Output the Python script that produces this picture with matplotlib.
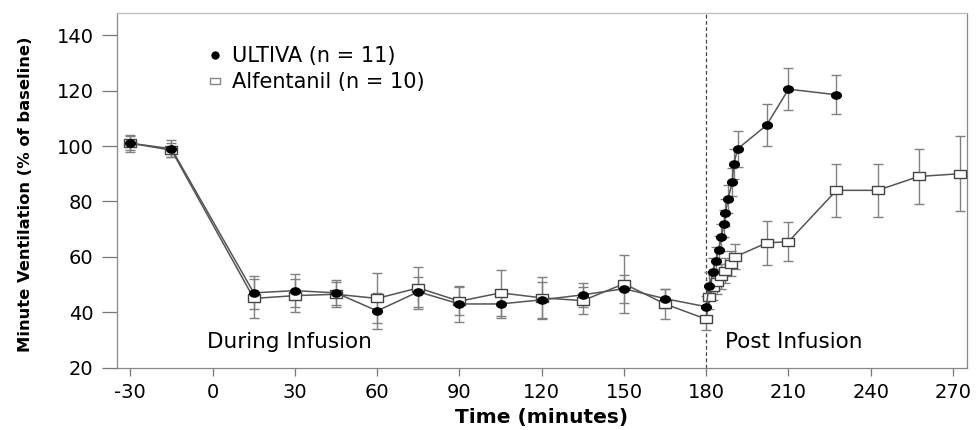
import matplotlib
matplotlib.use("Agg")
import matplotlib.pyplot as plt
from matplotlib.path import Path
from matplotlib.transforms import Affine2D

# ---------------- data ----------------
ult_time = [-30, -15, 15, 30, 45, 60, 75, 90, 105, 120, 135, 150, 165,
            180, 181, 182.5, 183.5, 184.5, 185.5, 186.5, 187, 188, 189.5, 190, 191.5,
            202, 210, 227.5]
ult_val = [101, 99, 47, 47.8, 47, 40.5, 47.4, 43, 43, 44.5, 46.3, 48.5, 44.9,
           42, 49.5, 54.5, 58.5, 62.5, 67, 72, 76, 81, 87, 93.5, 99,
           107.5, 120.5, 118.5]
ult_err = [3, 3, 6, 6, 4.5, 6.5, 5.5, 6.5, 5, 6.5, 4.3, 5, 3.5,
           4, 5, 5, 5, 5, 5, 5, 5, 5, 5, 5.5, 6.5,
           7.5, 7.5, 7]

alf_time = [-30, -15, 15, 30, 45, 60, 75, 90, 105, 120, 135, 150, 165,
            180, 181, 182.5, 184, 185.5, 187, 189, 190.5,
            202, 210, 227.5, 242.5, 257.5, 272.5]
alf_val = [101, 98.5, 45, 46, 46.5, 45, 48.8, 44, 47, 45.2, 44.2, 50.3, 43,
           37.5, 45.5, 49, 51, 53, 55, 57.5, 60,
           65, 65.5, 84, 84, 89, 90]
alf_err = [2.5, 2.5, 7, 6, 4.5, 9, 7.6, 5, 8.3, 7.5, 5, 10.5, 5.5,
           4, 4.5, 4.5, 4.5, 4.5, 4.5, 4.5, 4.5,
           8, 7, 9.5, 9.5, 10, 13.5]

xticks = [-30, 0, 30, 60, 90, 120, 150, 180, 210, 240, 270]
yticks = [20, 40, 60, 80, 100, 120, 140]

# ---------------- plot ----------------
plt.rcParams['font.family'] = ['DejaVu Sans']
plt.rcParams['axes.unicode_minus'] = False

fig = plt.figure(figsize=(9.77, 4.30), dpi=100)
ax = fig.add_axes([0.1194, 0.1449, 0.9895 - 0.1194, 0.9698 - 0.1449])

# horizontally stretched marker shapes (the original graphic is stretched)
ellipse = Path.unit_circle().transformed(Affine2D().scale(1.35, 1.0))
rect = Path([(-1.45, -1), (1.45, -1), (1.45, 1), (-1.45, 1), (-1.45, -1)],
            [Path.MOVETO, Path.LINETO, Path.LINETO, Path.LINETO, Path.CLOSEPOLY])

line_col = '#555555'
err_col = '#808080'

ax.axvline(180, color='#444444', lw=0.9, ls=(0, (3, 2)), zorder=1)

ax.errorbar(alf_time, alf_val, yerr=alf_err, fmt='none', ecolor=err_col,
            elinewidth=1.0, capsize=3.6, capthick=1.0, zorder=2)
ax.errorbar(ult_time, ult_val, yerr=ult_err, fmt='none', ecolor=err_col,
            elinewidth=1.0, capsize=3.6, capthick=1.0, zorder=2)

ax.plot(ult_time, ult_val, color=line_col, lw=1.1, marker=ellipse, ms=7,
        mfc='black', mec='black', zorder=4, label='ULTIVA (n = 11)')
ax.plot(alf_time, alf_val, color=line_col, lw=1.1, marker=rect, ms=8,
        mfc='white', mec='#444444', mew=1.0, zorder=3, label='Alfentanil (n = 10)')

ax.set_xlim(-35, 275)
ax.set_ylim(20, 148)
ax.set_xticks(xticks)
ax.set_yticks(yticks)
ax.tick_params(axis='both', labelsize=14, color='#777777', width=0.9)
ax.tick_params(axis='x', length=6, pad=5)
ax.tick_params(axis='y', length=10.5, pad=6)

for s in ax.spines.values():
    s.set_color('#888888')
    s.set_linewidth(0.9)
ax.spines['top'].set_color('#bbbbbb')

ax.set_xlabel('Time (minutes)', fontsize=14.5, fontweight='bold', labelpad=4)
ax.set_ylabel('Minute Ventilation (% of baseline)', fontsize=11.8,
              fontweight='bold')
ax.yaxis.set_label_coords(-0.0985, 0.49)

ax.text(-2.2, 27, 'During Infusion', fontsize=15.5, va='baseline', ha='left')
ax.text(186.8, 27, 'Post Infusion', fontsize=15.5, va='baseline', ha='left')

leg = ax.legend(loc='upper left', bbox_to_anchor=(0.107, 0.907), frameon=False,
                fontsize=15, handlelength=0.7, handletextpad=0.45,
                labelspacing=0.3, borderaxespad=0, borderpad=0)
for h in leg.legend_handles:
    h.set_linestyle('none')
leg.legend_handles[0].set_marker('o')
leg.legend_handles[0].set_markersize(5)
leg.legend_handles[1].set_markersize(7)
leg.legend_handles[1].set_markeredgecolor('#888888')

fig.savefig('out.png', dpi=100)
